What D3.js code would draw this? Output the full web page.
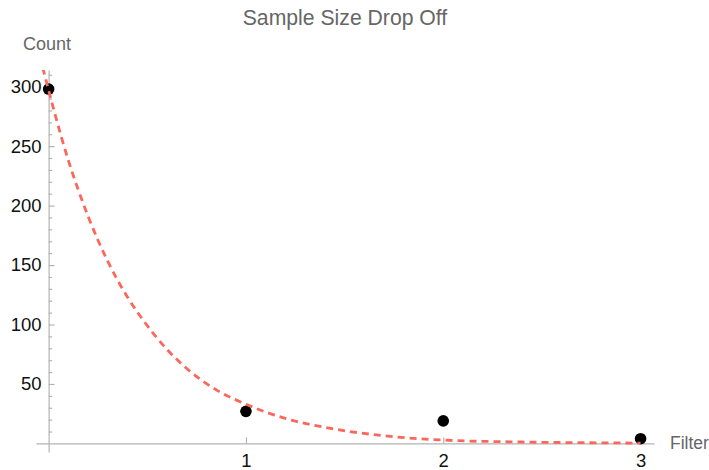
<!DOCTYPE html>
<html>
<head>
<meta charset="utf-8">
<script src="https://cdn.jsdelivr.net/npm/d3@7"></script>
<style>
	body{margin:0;background:#fff}
	text{font-family:"Liberation Sans",Arial,Helvetica,sans-serif}
</style>
</head>
<body>
<div id="chart"></div>
<script>
// observed counts per filter step
var filters=[0,1,2,3]
var counts=[298,27,19,4]

// dashed fit curve
var fitX=[-0.03,0.1,0.2,0.3,0.4,0.5,0.6,0.7,0.85,1.0,1.2,1.4,1.7,2.0,2.4,2.8,3.0]
var fitY=[316,238,191,153,123,99,79,63,45,33,21,13.5,6.5,2.8,1.2,0.5,0.3]

var xTicks=[1,2,3]
var yTicks=[50,100,150,200,250,300]
var yMinor=d3.range(10,311,10).filter(d=>d%50!=0)

var W=709,H=470

var svg=d3.select("#chart").append("svg")
	.attr("width",W)
	.attr("height",H)

var x=d3.scaleLinear()
	.domain([-0.064,3.068])
	.range([36,654])

var y=d3.scaleLinear()
	.domain([-7.2,314])
	.range([452,70])

var axisCol="#b3b3b3"

// x axis crosses at y=0
var gx=svg.append("g")
	.attr("transform","translate(0,"+y(0)+")")
	.call(d3.axisBottom(x).tickValues(xTicks).tickFormat(d3.format("d"))
		.tickSizeInner(-6).tickSizeOuter(0).tickPadding(10))

// y axis crosses at x=0
var gy=svg.append("g")
	.attr("transform","translate("+x(0)+",0)")
	.call(d3.axisLeft(y).tickValues(yTicks).tickFormat(d3.format("d"))
		.tickSizeInner(-6).tickSizeOuter(0).tickPadding(7))

var gyMinor=svg.append("g")
	.attr("transform","translate("+x(0)+",0)")
	.call(d3.axisLeft(y).tickValues(yMinor).tickFormat("")
		.tickSizeInner(-3.5).tickSizeOuter(0))
gyMinor.select(".domain").remove()

svg.selectAll(".domain, .tick line").attr("stroke",axisCol).attr("stroke-width",1.2)
svg.selectAll(".tick text").attr("fill","#111").attr("font-size",18.5)
	.style("font-family","'Liberation Sans',Arial,sans-serif")

svg.append("clipPath").attr("id","clip")
	.append("rect")
	.attr("x",x.range()[0]).attr("y",y.range()[1])
	.attr("width",x.range()[1]-x.range()[0])
	.attr("height",y.range()[0]-y.range()[1])

var pts=filters.map((d,i)=>({f:d,c:counts[i]}))
svg.selectAll(".dot")
	.data(pts)
	.enter()
	.append("circle")
	.attr("class","dot")
	.attr("cx",d=>x(d.f))
	.attr("cy",d=>y(d.c))
	.attr("r",5.8)
	.attr("fill","#000")

var fit=fitX.map((d,i)=>[d,fitY[i]])
var line=d3.line()
	.x(d=>x(d[0]))
	.y(d=>y(d[1]))
	.curve(d3.curveMonotoneX)

svg.append("path")
	.datum(fit)
	.attr("clip-path","url(#clip)")
	.attr("d",line)
	.attr("fill","none")
	.attr("stroke","#fb675c")
	.attr("stroke-width",2.8)
	.attr("stroke-dasharray","7,5")

// labels
svg.append("text")
	.text("Sample Size Drop Off")
	.attr("x",345)
	.attr("y",25)
	.attr("text-anchor","middle")
	.attr("font-size",21.2)
	.attr("fill","#666")

svg.append("text")
	.text("Count")
	.attr("x",23)
	.attr("y",50)
	.attr("font-size",18)
	.attr("fill","#666")

svg.append("text")
	.text("Filter")
	.attr("x",670)
	.attr("y",449)
	.attr("font-size",17.5)
	.attr("fill","#666")
</script>
</body>
</html>
